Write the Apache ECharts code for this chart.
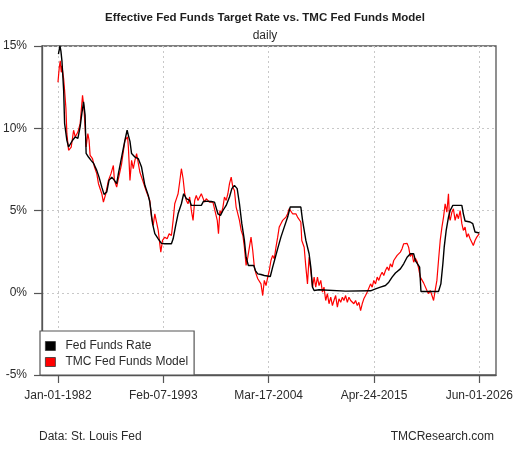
<!DOCTYPE html>
<html>
<head>
<meta charset="utf-8">
<script src="https://cdn.jsdelivr.net/npm/echarts@6/dist/echarts.min.js"></script>
<style>
html,body{margin:0;padding:0;background:#fff;}
#chart{width:518px;height:452px;}
</style>
</head>
<body>
<div id="chart"></div>
<script>
// ---- data (decimal year, percent) ----
const tickDates = ['1982-01-01','1993-02-07','2004-03-17','2015-04-24','2026-06-01'];
const tickLabels = ['Jan-01-1982','Feb-07-1993','Mar-17-2004','Apr-24-2015','Jun-01-2026'];
const yTicks = [-5, 0, 5, 10, 15];

const fedFundsRate = [
[1982.05,14.5],[1982.21,15.0],[1982.31,14.7],[1982.42,14.1],[1982.60,12.3],[1982.70,10.3],[1982.94,9.26],[1983.12,8.86],[1983.29,8.76],[1983.54,9.27],[1983.82,9.47],[1984.10,9.39],[1984.34,10.1],[1984.52,10.9],[1984.70,11.6],[1984.86,10.8],[1984.97,8.47],[1985.22,8.25],[1985.49,8.05],[1985.75,7.87],[1986.09,7.44],[1986.33,7.03],[1986.62,6.42],[1986.86,5.98],[1987.14,6.12],[1987.38,6.83],[1987.67,7.03],[1987.95,6.83],[1988.19,6.63],[1988.37,7.24],[1988.71,8.25],[1989.06,9.27],[1989.29,9.88],[1989.42,9.57],[1989.59,9.2],[1989.76,8.46],[1990.11,8.25],[1990.47,8.15],[1990.81,7.64],[1991.16,6.53],[1991.52,5.92],[1991.68,5.51],[1991.97,4.2],[1992.21,3.59],[1992.57,3.28],[1992.91,3.0],[1993.26,2.98],[1993.62,2.98],[1993.96,2.98],[1994.14,3.28],[1994.41,4.1],[1994.66,4.8],[1995.01,5.41],[1995.25,6.02],[1995.53,5.72],[1995.88,5.61],[1996.06,5.31],[1997.11,5.31],[1997.35,5.57],[1998.16,5.55],[1998.50,5.51],[1998.86,4.8],[1999.13,4.7],[1999.39,5.0],[1999.73,5.31],[2000.08,5.82],[2000.33,6.33],[2000.60,6.53],[2000.89,6.33],[2001.13,5.41],[2001.38,4.2],[2001.65,3.18],[2001.83,2.16],[2002.07,1.66],[2002.64,1.66],[2002.81,1.35],[2003.06,1.15],[2003.40,1.11],[2003.75,1.05],[2004.38,0.99],[2004.63,1.56],[2004.87,2.07],[2005.16,2.68],[2005.50,3.38],[2005.85,3.99],[2006.21,4.6],[2006.48,5.21],[2007.60,5.21],[2007.78,4.4],[2008.13,3.18],[2008.47,2.37],[2008.65,1.56],[2008.83,0.34],[2009.00,0.14],[2009.52,0.18],[2012.32,0.1],[2014.95,0.12],[2015.47,0.24],[2015.99,0.34],[2016.52,0.44],[2016.87,0.64],[2017.22,0.95],[2017.57,1.2],[2018.09,1.45],[2018.44,1.76],[2018.80,2.16],[2019.14,2.37],[2019.49,2.37],[2019.67,1.96],[2019.85,1.86],[2020.12,1.56],[2020.26,0.08],[2022.11,0.08],[2022.36,0.54],[2022.57,1.76],[2022.71,2.77],[2022.92,3.79],[2023.16,4.6],[2023.34,5.0],[2023.62,5.31],[2024.57,5.31],[2024.73,4.8],[2024.91,4.36],[2025.44,4.3],[2025.72,4.2],[2025.96,3.69],[2026.41,3.63]
];

const tmcModel = [
[1982.00,12.8],[1982.14,13.7],[1982.24,14.1],[1982.35,13.4],[1982.42,13.8],[1982.60,13.0],[1982.70,12.3],[1982.84,11.2],[1982.94,9.67],[1983.12,8.66],[1983.40,8.86],[1983.65,9.88],[1983.82,9.47],[1984.10,9.77],[1984.34,10.28],[1984.59,12.0],[1984.73,11.3],[1984.86,10.1],[1984.97,8.86],[1985.15,9.67],[1985.28,9.27],[1985.39,8.35],[1985.64,8.15],[1985.85,7.64],[1986.09,7.24],[1986.27,6.63],[1986.62,6.02],[1986.79,5.51],[1987.04,6.02],[1987.32,6.83],[1987.59,7.24],[1987.84,7.74],[1987.95,6.83],[1988.19,6.42],[1988.37,6.93],[1988.71,7.84],[1989.06,9.27],[1989.34,9.47],[1989.42,8.86],[1989.59,6.83],[1989.76,8.05],[1989.94,7.54],[1990.11,8.05],[1990.29,8.46],[1990.47,8.56],[1990.63,7.34],[1990.81,7.03],[1990.99,6.73],[1991.16,6.42],[1991.34,6.12],[1991.52,6.22],[1991.68,5.61],[1991.86,4.6],[1992.04,4.1],[1992.21,4.8],[1992.39,4.29],[1992.57,3.79],[1992.73,2.98],[1992.84,2.47],[1993.02,3.18],[1993.26,3.38],[1993.51,3.28],[1993.72,3.59],[1993.96,3.48],[1994.14,4.4],[1994.31,5.41],[1994.49,5.72],[1994.66,6.02],[1994.83,6.73],[1995.01,7.54],[1995.19,6.93],[1995.36,6.02],[1995.53,5.61],[1995.71,5.41],[1995.88,5.82],[1996.06,5.0],[1996.24,4.4],[1996.41,5.61],[1996.58,5.92],[1996.76,5.61],[1996.93,5.72],[1997.11,6.02],[1997.29,6.12],[1997.45,5.51],[1997.63,5.72],[1997.81,5.82],[1997.98,5.51],[1998.16,5.61],[1998.34,5.5],[1998.50,5.45],[1998.79,4.4],[1998.92,3.59],[1999.07,5.0],[1999.21,4.8],[1999.39,5.21],[1999.55,5.82],[1999.73,5.61],[1999.91,6.02],[2000.08,6.63],[2000.26,7.03],[2000.43,6.42],[2000.60,6.22],[2000.78,5.21],[2000.96,4.8],[2001.13,4.4],[2001.31,3.79],[2001.49,3.48],[2001.65,2.77],[2001.83,1.66],[2002.01,2.16],[2002.18,2.77],[2002.35,3.38],[2002.53,2.57],[2002.70,1.56],[2002.88,1.15],[2003.06,0.85],[2003.23,0.95],[2003.40,0.54],[2003.58,-0.17],[2003.75,0.75],[2003.93,0.44],[2004.11,0.95],[2004.27,1.35],[2004.45,1.96],[2004.63,2.27],[2004.80,2.07],[2004.98,2.77],[2005.16,3.38],[2005.32,3.99],[2005.50,4.2],[2005.68,4.4],[2005.85,4.5],[2006.03,4.6],[2006.21,4.8],[2006.37,5.11],[2006.55,5.0],[2006.73,4.8],[2006.90,4.9],[2007.08,4.8],[2007.25,4.6],[2007.42,4.7],[2007.60,4.3],[2007.70,3.18],[2007.95,2.77],[2008.13,1.56],[2008.30,0.54],[2008.47,2.16],[2008.65,1.35],[2008.83,0.34],[2009.00,0.95],[2009.17,0.34],[2009.35,0.95],[2009.52,0.44],[2009.70,0.75],[2009.88,0.04],[2010.04,0.34],[2010.22,-0.47],[2010.40,-0.06],[2010.57,-0.67],[2010.75,-0.27],[2010.93,-0.78],[2011.09,-0.47],[2011.27,-0.17],[2011.45,-0.88],[2011.62,-0.37],[2011.80,-0.58],[2011.98,-0.27],[2012.14,-0.47],[2012.32,-0.17],[2012.50,-0.58],[2012.67,-0.27],[2012.85,-0.47],[2013.02,-0.37],[2013.19,-0.67],[2013.37,-0.47],[2013.55,-0.78],[2013.72,-0.58],[2013.90,-1.08],[2014.07,-0.67],[2014.24,-0.37],[2014.42,-0.17],[2014.60,0.04],[2014.77,0.14],[2014.95,0.54],[2015.12,0.34],[2015.29,0.75],[2015.47,0.54],[2015.65,0.95],[2015.82,0.75],[2015.99,1.05],[2016.17,1.25],[2016.34,1.05],[2016.52,1.35],[2016.70,1.56],[2016.87,1.35],[2017.04,1.76],[2017.22,1.56],[2017.39,1.96],[2017.57,1.86],[2017.75,2.27],[2017.91,2.17],[2018.09,2.47],[2018.27,2.68],[2018.44,2.98],[2018.62,3.08],[2018.80,3.0],[2018.96,2.77],[2019.14,2.2],[2019.32,2.4],[2019.49,1.86],[2019.67,2.1],[2019.85,1.9],[2020.01,1.5],[2020.19,0.95],[2020.54,0.6],[2020.89,0.14],[2021.06,-0.06],[2021.24,0.14],[2021.42,-0.17],[2021.59,-0.47],[2021.76,0.14],[2021.94,0.75],[2022.11,1.96],[2022.29,3.18],[2022.47,3.99],[2022.64,4.6],[2022.81,5.41],[2022.99,4.9],[2023.16,6.02],[2023.26,4.6],[2023.34,4.4],[2023.52,4.9],[2023.68,5.1],[2023.86,4.4],[2024.04,4.8],[2024.21,4.5],[2024.39,5.0],[2024.57,4.2],[2024.73,3.79],[2024.91,3.99],[2025.09,3.38],[2025.25,3.59],[2025.44,3.28],[2025.61,3.18],[2025.78,2.87],[2025.96,3.18],[2026.14,3.38],[2026.31,3.48],[2026.41,3.59]
];

// ---- helpers ----
function decYear(s) {
  const p = s.split('-').map(Number);
  const start = Date.UTC(p[0], 0, 1), end = Date.UTC(p[0] + 1, 0, 1);
  return p[0] + (Date.UTC(p[0], p[1] - 1, p[2]) - start) / (end - start);
}
const tickYears = tickDates.map(decYear);
function labelFor(v) {
  let best = 0, bd = Infinity;
  tickYears.forEach((t, i) => { const d = Math.abs(t - v); if (d < bd) { bd = d; best = i; } });
  return tickLabels[best];
}

const FONT = 'Liberation Sans, Arial, Helvetica, sans-serif';
const TXT = '#2b2b2b';
const AXC = '#555';

const chart = echarts.init(document.getElementById('chart'), null, { renderer: 'canvas' });
chart.setOption({
  animation: false,
  backgroundColor: '#fff',
  textStyle: { fontFamily: FONT },
  title: [
    { text: 'Effective Fed Funds Target Rate vs. TMC Fed Funds Model', left: 265, top: 12, textAlign: 'center', padding: 0,
      textStyle: { fontFamily: FONT, fontSize: 11.5, fontWeight: 'bold', color: '#1e1e1e' } },
    { text: 'daily', left: 265, top: 30, textAlign: 'center', padding: 0,
      textStyle: { fontFamily: FONT, fontSize: 12, fontWeight: 'normal', color: TXT } },
    { text: 'Data: St. Louis Fed', left: 39, top: 431, padding: 0,
      textStyle: { fontFamily: FONT, fontSize: 12, fontWeight: 'normal', color: TXT } },
    { text: 'TMCResearch.com', right: 24, top: 431, padding: 0,
      textStyle: { fontFamily: FONT, fontSize: 12, fontWeight: 'normal', color: TXT } }
  ],
  grid: { left: 40, right: 22, top: 46, bottom: 77, show: true, borderColor: AXC, borderWidth: 1.3, backgroundColor: 'transparent' },
  legend: {
    orient: 'vertical', left: 40, top: 331,
    data: ['Fed Funds Rate', 'TMC Fed Funds Model'],
    icon: 'path://M0,0H10V9H0Z',
    itemWidth: 20, itemHeight: 9, itemGap: 4,
    padding: [9, 6, 7, 5],
    backgroundColor: '#fff', borderColor: AXC, borderWidth: 1.2, borderRadius: 0,
    itemStyle: { borderColor: '#333', borderWidth: 0.8 },
    textStyle: { fontFamily: FONT, fontSize: 12, color: TXT, lineHeight: 12, padding: 0 },
    selectedMode: false
  },
  xAxis: {
    type: 'value', min: 1980.32, max: 2028.17,
    axisLine: { show: true, onZero: false, lineStyle: { color: AXC, width: 1.3 } },
    axisTick: { show: true, inside: false, length: 8, customValues: tickYears, lineStyle: { color: AXC, width: 1.2 } },
    axisLabel: { customValues: tickYears, margin: 15, formatter: labelFor, color: TXT, fontSize: 12, fontFamily: FONT },
    splitLine: { show: true, lineStyle: { color: '#c8c8c8', type: [2, 3], width: 1 } }
  },
  yAxis: {
    type: 'value', min: -5, max: 15, interval: 5,
    axisLine: { show: true, lineStyle: { color: AXC, width: 1.3 } },
    axisTick: { show: true, inside: false, length: 8, lineStyle: { color: AXC, width: 1.2 } },
    axisLabel: { margin: 15, formatter: '{value}%', color: TXT, fontSize: 12, fontFamily: FONT },
    splitLine: { show: true, lineStyle: { color: '#c8c8c8', type: [2, 3], width: 1 } }
  },
  series: [
    { name: 'TMC Fed Funds Model', type: 'line', data: tmcModel, showSymbol: false, symbol: 'none',
      lineStyle: { color: '#ff0000', width: 1.2 }, itemStyle: { color: '#ff0000' }, z: 2 },
    { name: 'Fed Funds Rate', type: 'line', data: fedFundsRate, showSymbol: false, symbol: 'none',
      lineStyle: { color: '#000', width: 1.4 }, itemStyle: { color: '#000' }, z: 3 }
  ]
});
</script>
</body>
</html>
